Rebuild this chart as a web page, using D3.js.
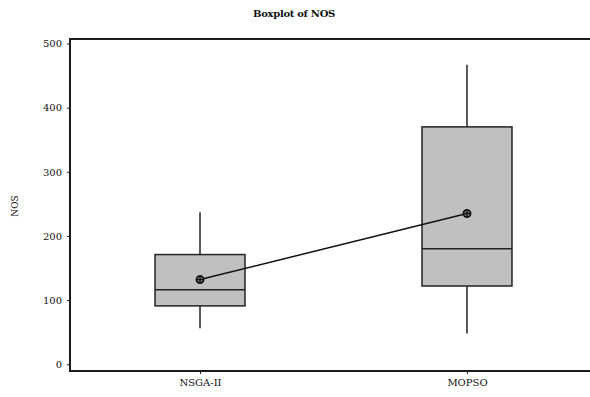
<!DOCTYPE html>
<html>
<head>
<meta charset="utf-8">
<script src="https://cdn.jsdelivr.net/npm/d3@7/dist/d3.min.js"></script>
<style>
  html, body { margin: 0; padding: 0; background: #fff; }
  svg { display: block; }
</style>
</head>
<body>
<svg id="chart" width="590" height="397"></svg>
<script>
// Boxplot of NOS per algorithm
const categories = ["NSGA-II", "MOPSO"];
const whiskerLow  = [56, 48];
const q1          = [91, 122];
const medians     = [116, 180];
const q3          = [171, 370];
const whiskerHigh = [237, 467];
const means       = [132, 235];
const yTicks = [0, 100, 200, 300, 400, 500];

const svg = d3.select("#chart");
const plotLeft = 70, plotTop = 39, plotBottom = 371, plotRight = 600;
const font = "'DejaVu Serif', 'Liberation Serif', serif";

const x = d3.scalePoint().domain(categories).range([plotLeft, 597]).padding(0.487);
const y = d3.scaleLinear().domain([-10.5, 507]).range([plotBottom, plotTop]);
const boxW = x.step() * 0.337;

const rows = categories.map((c, i) => ({
  c, lo: whiskerLow[i], q1: q1[i], med: medians[i], q3: q3[i], hi: whiskerHigh[i], mean: means[i]
}));

// Plot frame
svg.append("path")
  .attr("d", `M${plotRight},${plotTop}H${plotLeft}V${plotBottom}H${plotRight}`)
  .attr("fill", "none").attr("stroke", "#1a1a1a").attr("stroke-width", 2);

// Y axis
const yAxis = svg.append("g").attr("transform", `translate(${plotLeft},0)`)
  .call(d3.axisLeft(y).tickValues(yTicks).tickSize(3).tickPadding(5));
yAxis.select(".domain").remove();
yAxis.selectAll("text").attr("font-family", font).attr("font-size", 10).attr("fill", "#111");
yAxis.selectAll("line").attr("stroke", "#222");

// X axis
const xAxis = svg.append("g").attr("transform", `translate(0,${plotBottom})`)
  .call(d3.axisBottom(x).tickSize(3).tickPadding(5));
xAxis.select(".domain").remove();
xAxis.selectAll("text").attr("font-family", font).attr("font-size", 10).attr("fill", "#111");
xAxis.selectAll("line").attr("stroke", "#222");

// Whiskers, boxes and medians
const g = svg.append("g");
rows.forEach(r => {
  const cx = x(r.c);
  g.append("line").attr("x1", cx).attr("x2", cx).attr("y1", y(r.hi)).attr("y2", y(r.q3))
    .attr("stroke", "#222").attr("stroke-width", 1.5);
  g.append("line").attr("x1", cx).attr("x2", cx).attr("y1", y(r.q1)).attr("y2", y(r.lo))
    .attr("stroke", "#222").attr("stroke-width", 1.5);
  g.append("rect").attr("x", cx - boxW / 2).attr("width", boxW)
    .attr("y", y(r.q3)).attr("height", y(r.q1) - y(r.q3))
    .attr("fill", "#c0c0c0").attr("stroke", "#222").attr("stroke-width", 1.5);
  g.append("line").attr("x1", cx - boxW / 2).attr("x2", cx + boxW / 2)
    .attr("y1", y(r.med)).attr("y2", y(r.med))
    .attr("stroke", "#222").attr("stroke-width", 1.5);
});

// Mean connect line
svg.append("path")
  .datum(rows)
  .attr("d", d3.line().x(d => x(d.c)).y(d => y(d.mean)))
  .attr("fill", "none").attr("stroke", "#111").attr("stroke-width", 1.5);

// Mean symbols (circle with cross)
rows.forEach(r => {
  const cx = x(r.c), cy = y(r.mean);
  svg.append("circle").attr("cx", cx).attr("cy", cy).attr("r", 3.6)
    .attr("fill", "#888").attr("stroke", "#111").attr("stroke-width", 1.8);
  svg.append("path").attr("d", `M${cx - 3.6},${cy}H${cx + 3.6}M${cx},${cy - 3.6}V${cy + 3.6}`)
    .attr("stroke", "#111").attr("stroke-width", 1.4);
});

// Title and axis label
svg.append("text").attr("x", 294).attr("y", 17).attr("text-anchor", "middle")
  .attr("font-family", font).attr("font-weight", "bold").attr("font-size", 10)
  .attr("letter-spacing", -0.3)
  .attr("fill", "#111").text("Boxplot of NOS");

svg.append("text").attr("transform", `translate(18,206) rotate(-90)`)
  .attr("text-anchor", "middle").attr("font-family", font).attr("font-size", 9)
  .attr("fill", "#111").text("NOS");
</script>
</body>
</html>
